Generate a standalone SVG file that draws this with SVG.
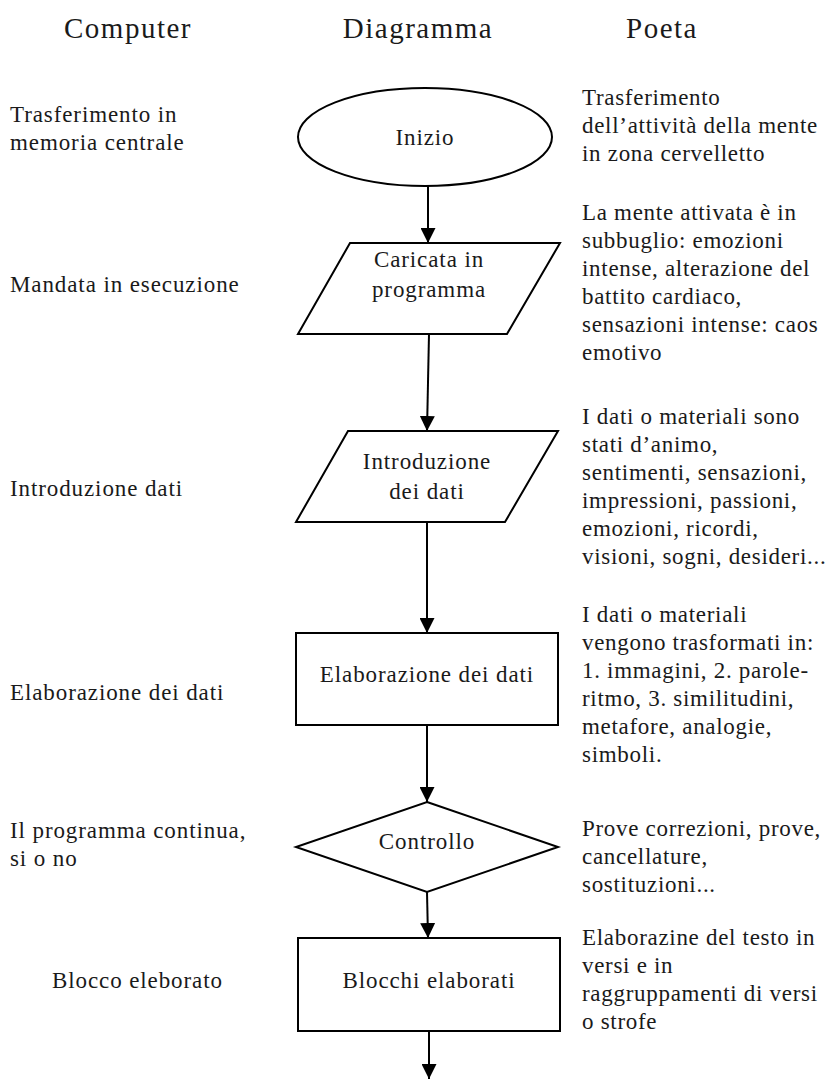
<svg xmlns="http://www.w3.org/2000/svg" width="836" height="1079" viewBox="0 0 836 1079">
<defs>
<style>
text{font-family:"Liberation Serif","Times New Roman",serif;fill:#1a1a1a;font-size:23px;letter-spacing:0.9px}
.h{font-size:29px;letter-spacing:1.5px;text-anchor:middle}
.c{text-anchor:middle}
.p{letter-spacing:0.7px}
.shape{fill:#fff;stroke:#000;stroke-width:2}
.conn{stroke:#000;stroke-width:2;fill:none;marker-end:url(#arr)}
</style>
<marker id="arr" markerUnits="userSpaceOnUse" markerWidth="15" markerHeight="15" refX="15" refY="7.5" orient="auto">
<path d="M0,0 L15,7.5 L0,15 z" fill="#000"/>
</marker>
</defs>
<rect width="836" height="1079" fill="#fff"/>
<g id="headers">
<text class="h" x="128" y="38">Computer</text>
<text class="h" x="418" y="38">Diagramma</text>
<text class="h" x="662" y="38">Poeta</text>
</g>
<g id="computer-col">
<text x="10" y="122">Trasferimento in</text>
<text x="10" y="150">memoria centrale</text>
<text x="10" y="292">Mandata in esecuzione</text>
<text x="10" y="496">Introduzione dati</text>
<text x="10" y="700">Elaborazione dei dati</text>
<text x="10" y="838">Il programma continua,</text>
<text x="10" y="866">si o no</text>
<text x="52" y="988">Blocco eleborato</text>
</g>
<g id="poeta-col" class="p">
<text class="p" x="582" y="105">Trasferimento</text>
<text class="p" x="582" y="133">dell’attività della mente</text>
<text class="p" x="582" y="161">in zona cervelletto</text>
<text class="p" x="582" y="220">La mente attivata è in</text>
<text class="p" x="582" y="248">subbuglio: emozioni</text>
<text class="p" x="582" y="276">intense, alterazione del</text>
<text class="p" x="582" y="304">battito cardiaco,</text>
<text class="p" x="582" y="332">sensazioni intense: caos</text>
<text class="p" x="582" y="360">emotivo</text>
<text class="p" x="582" y="424">I dati o materiali sono</text>
<text class="p" x="582" y="452">stati d’animo,</text>
<text class="p" x="582" y="480">sentimenti, sensazioni,</text>
<text class="p" x="582" y="508">impressioni, passioni,</text>
<text class="p" x="582" y="536">emozioni, ricordi,</text>
<text class="p" x="582" y="564">visioni, sogni, desideri...</text>
<text class="p" x="582" y="622">I dati o materiali</text>
<text class="p" x="582" y="650">vengono trasformati in:</text>
<text class="p" x="582" y="678">1. immagini, 2. parole-</text>
<text class="p" x="582" y="706">ritmo, 3. similitudini,</text>
<text class="p" x="582" y="734">metafore, analogie,</text>
<text class="p" x="582" y="762">simboli.</text>
<text class="p" x="582" y="836">Prove correzioni, prove,</text>
<text class="p" x="582" y="864">cancellature,</text>
<text class="p" x="582" y="892">sostituzioni...</text>
<text class="p" x="582" y="945">Elaborazine del testo in</text>
<text class="p" x="582" y="973">versi e in</text>
<text class="p" x="582" y="1001">raggruppamenti di versi</text>
<text class="p" x="582" y="1029">o strofe</text>
</g>
<g id="connectors">
<line class="conn" x1="428" y1="186" x2="428" y2="243"/>
<line class="conn" x1="429" y1="334" x2="427" y2="431"/>
<line class="conn" x1="427" y1="522" x2="427" y2="633"/>
<line class="conn" x1="427" y1="725" x2="427" y2="802"/>
<line class="conn" x1="427" y1="892" x2="428" y2="938"/>
<line class="conn" x1="429" y1="1031" x2="429" y2="1079"/>
</g>
<g id="inizio">
<ellipse class="shape" cx="425" cy="137" rx="127" ry="49"/>
<text class="c" x="425" y="145">Inizio</text>
</g>
<g id="caricata">
<polygon class="shape" points="350,243 560,243 507,334 298,334"/>
<text class="c" x="429" y="267">Caricata in</text>
<text class="c" x="429" y="297">programma</text>
</g>
<g id="introduzione">
<polygon class="shape" points="348,431 558,431 505,522 296,522"/>
<text class="c" x="427" y="469">Introduzione</text>
<text class="c" x="427" y="499">dei dati</text>
</g>
<g id="elaborazione">
<rect class="shape" x="296" y="633" width="262" height="92"/>
<text class="c" x="427" y="682">Elaborazione dei dati</text>
</g>
<g id="controllo">
<polygon class="shape" points="427,802 558,847 427,892 296,847"/>
<text class="c" x="427" y="849">Controllo</text>
</g>
<g id="blocchi">
<rect class="shape" x="298" y="938" width="262" height="93"/>
<text class="c" x="429" y="988">Blocchi elaborati</text>
</g>
</svg>
